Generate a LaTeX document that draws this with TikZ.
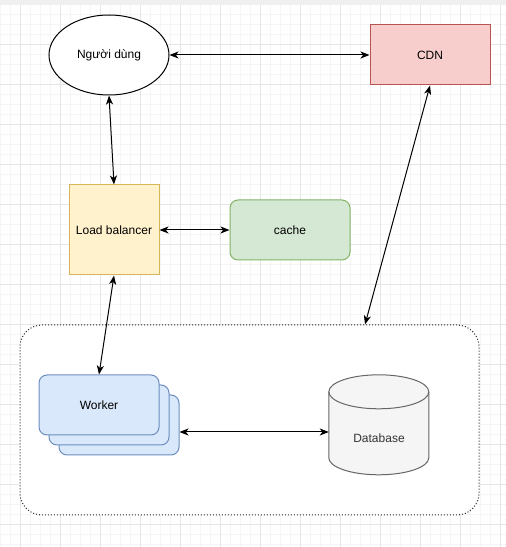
\documentclass[tikz,border=0pt]{standalone}
\usepackage{fontspec}
\setmainfont{Liberation Sans}
\usetikzlibrary{arrows.meta,positioning,shapes.geometric}
\definecolor{dioyellow}{HTML}{FFF2CC}
\definecolor{dioyellowdk}{HTML}{D6B656}
\definecolor{diored}{HTML}{F8CECC}
\definecolor{dioreddk}{HTML}{B85450}
\definecolor{diogreen}{HTML}{D5E8D4}
\definecolor{diogreendk}{HTML}{82B366}
\definecolor{dioblue}{HTML}{DAE8FC}
\definecolor{diobluedk}{HTML}{6C8EBF}
\definecolor{diogray}{HTML}{F5F5F5}
\definecolor{diograydk}{HTML}{666666}
\definecolor{diotext}{HTML}{333333}
\definecolor{gridminor}{HTML}{F5F5F5}
\definecolor{gridmajor}{HTML}{E6E6E6}

\begin{document}
\begin{tikzpicture}[x=1pt,y=1pt,
      box/.style={draw,line width=1pt,minimum width=120pt,minimum height=60pt,inner sep=0pt,align=center,font=\fontsize{12}{14}\selectfont},
      arr/.style={{Stealth[length=9pt,width=7pt,inset=2.5pt]}-{Stealth[length=9pt,width=7pt,inset=2.5pt]},line width=1pt,draw=black}]
    \useasboundingbox (0,0) rectangle (506,547);
    % canvas grid
    \fill[white] (0,0) rectangle (506,547);
    \draw[gridminor,line width=1pt] \foreach \k in {0,...,50} {({10*\k},0) -- ({10*\k},542)};
    \draw[gridminor,line width=1pt] \foreach \k in {0,...,54} {(0,{542-10*\k}) -- (506,{542-10*\k})};
    \draw[gridmajor,line width=1pt] \foreach \k in {0,...,12} {({20+40*\k},0) -- ({20+40*\k},542)};
    \draw[gridmajor,line width=1pt] \foreach \k in {0,...,13} {(0,{542-40*\k}) -- (506,{542-40*\k})};
    \fill[gray!12] (0,542) rectangle (506,547);

    \node[box,ellipse,fill=white,minimum width=120pt,minimum height=80pt] (user) at (109,492) {Người dùng};
    \node[box,draw=dioreddk,fill=diored,right=200pt of user] (cdn) {CDN};
    \node[box,draw=dioyellowdk,fill=dioyellow,minimum width=90pt,minimum height=90pt] (lb) at (114,317)
      {Load balancer};
    \node[box,rounded corners=8pt,draw=diogreendk,fill=diogreen,right=70pt of lb] (cache) {cache};

    % cluster
    \node[draw=black!85,dotted,line width=1pt,rounded corners=22pt,fill=white,minimum width=459pt,minimum height=190pt]
      (cluster) at (249.5,127) {};
    \coordinate (cdnlink) at ([xshift=115.5pt]cluster.north);
    \node[box,rounded corners=8pt,draw=diobluedk,fill=dioblue] (w3) at (119,122) {};
    \node[box,rounded corners=8pt,draw=diobluedk,fill=dioblue] (w2) at (109,132) {};
    \node[box,rounded corners=8pt,draw=diobluedk,fill=dioblue] (w1) at (99,142) {Worker};
    \node[minimum width=100pt,minimum height=100pt,inner sep=0pt] (db) at (379,122) {};
    \draw[diograydk,fill=diogray,line width=1pt] (db.north west) ++(0,-17) -- ++(0,-66)
      arc[start angle=180,end angle=360,x radius=50,y radius=17] -- ++(0,66)
      arc[start angle=0,end angle=180,x radius=50,y radius=17] -- cycle;
    \draw[diograydk,line width=1pt] (db.north west) ++(0,-17)
      arc[start angle=180,end angle=360,x radius=50,y radius=17];
    \node[font=\fontsize{12}{14}\selectfont,text=diotext] (dblabel) at ([yshift=-13pt]db.center) {Database};

    \draw[arr] (user) -- (cdn);
    \draw[arr] (user.south) -- (lb.north);
    \draw[arr] (lb) -- (cache);
    \draw[arr] (lb.south) -- (w1.north);
    \draw[arr] (cdn.south) -- (cdnlink);
    \draw[arr] ([yshift=-7pt]w3.east) -- ([yshift=-7pt]db.west);
  \end{tikzpicture}
\end{document}
